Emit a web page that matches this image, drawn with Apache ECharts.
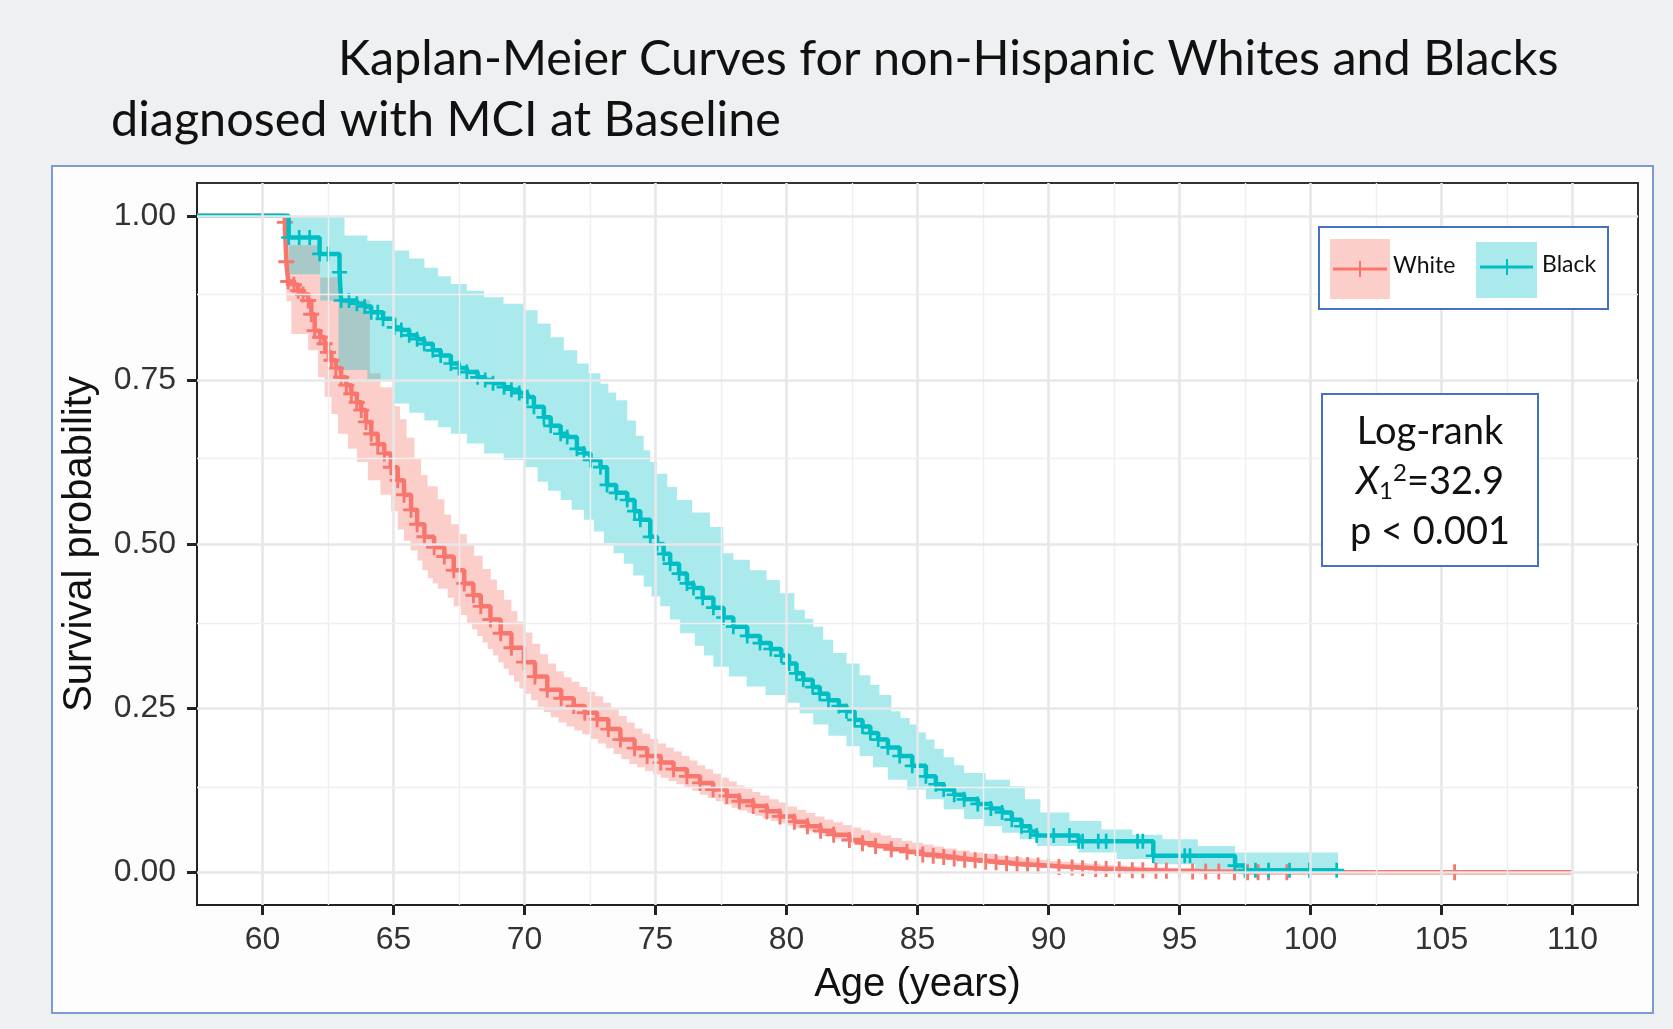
<!DOCTYPE html>
<html>
<head>
<meta charset="utf-8">
<script src="https://cdn.jsdelivr.net/npm/echarts@6.0.0/dist/echarts.min.js"></script>
<style>
html,body{margin:0;padding:0;background:#eff0f2;}
#chart{width:1673px;height:1029px;}
</style>
</head>
<body>
<div id="chart"></div>
<script>
// ---------- text ----------
const titleLine1 = 'Kaplan-Meier Curves for non-Hispanic Whites and Blacks';
const titleLine2 = 'diagnosed with MCI at Baseline';
const xName = 'Age (years)';
const yName = 'Survival probability';
const groupNames = ['White', 'Black'];

// ---------- axes ----------
const xRange = [57.5, 112.5];
const yRange = [-0.05, 1.05];
const xTicks = [60, 65, 70, 75, 80, 85, 90, 95, 100, 105, 110];
const xMinor = [62.5, 67.5, 72.5, 77.5, 82.5, 87.5, 92.5, 97.5, 102.5, 107.5];
const yTicks = [0, 0.25, 0.5, 0.75, 1];
const yMinor = [0.125, 0.375, 0.625, 0.875];

// ---------- Kaplan-Meier estimates [age, survival] (each point: level from that age on) ----------
const whiteSurv = [
 [57.5,1.0],[60.85,0.99],[60.91,0.93],[60.98,0.90],[61.2,0.895],[61.36,0.886],[61.55,0.880],[61.74,0.871],
 [61.86,0.850],[61.99,0.825],[62.2,0.815],[62.37,0.805],[62.5,0.792],[62.63,0.780],[62.8,0.768],[63.0,0.754],
 [63.2,0.742],[63.39,0.729],[63.6,0.716],[63.77,0.704],[63.95,0.686],[64.15,0.668],[64.4,0.652],[64.65,0.638],
 [64.9,0.617],[65.16,0.597],[65.4,0.575],[65.67,0.552],[65.9,0.530],[66.18,0.511],[66.55,0.495],[66.94,0.481],
 [67.3,0.460],[67.7,0.440],[68.05,0.422],[68.33,0.405],[68.7,0.385],[69.09,0.364],[69.5,0.342],[69.98,0.320],
 [70.4,0.298],[70.87,0.278],[71.4,0.265],[71.88,0.253],[72.3,0.243],[72.77,0.233],[73.2,0.218],[73.66,0.202],
 [74.2,0.189],[74.68,0.177],[75.2,0.167],[75.69,0.157],[76.2,0.146],[76.7,0.136],[77.2,0.126],[77.72,0.116],
 [78.2,0.108],[78.73,0.101],[79.25,0.093],[79.75,0.085],[80.3,0.077],[80.8,0.070],[81.3,0.063],[81.8,0.057],
 [82.4,0.049],[82.9,0.044],[83.4,0.040],[84.0,0.035],[84.6,0.031],[85.2,0.027],[85.6,0.025],[86.0,0.023],
 [86.4,0.021],[86.8,0.019],[87.2,0.018],[87.6,0.016],[88.0,0.015],[88.4,0.013],[88.8,0.012],[89.2,0.011],
 [89.6,0.010],[90.0,0.009],[90.4,0.008],[90.9,0.007],[91.3,0.006],[91.8,0.005],[92.2,0.005],[92.7,0.004],
 [93.2,0.003],[93.6,0.003],[94.1,0.002],[94.5,0.002],[95.0,0.002],[95.5,0.001],[96.0,0.001],[96.5,0.001],
 [97.1,0.0],[97.6,0.0],[98.0,0.0],[98.4,0.0],[99.1,0.0],[105.5,0.0],[110.0,0.0]
];
const whiteUpper = [
 [57.5,1.0],[60.85,1.0],[60.95,0.955],[62.2,0.906],[62.9,0.871],[64.1,0.76],[64.5,0.739],[65.03,0.710],
 [65.25,0.690],[65.5,0.662],[65.8,0.630],[66.05,0.605],[66.3,0.588],[66.69,0.568],[66.94,0.545],[67.2,0.530],
 [67.5,0.515],[67.8,0.498],[68.08,0.482],[68.4,0.462],[68.71,0.446],[68.95,0.430],[69.22,0.415],[69.5,0.398],
 [69.73,0.382],[70.0,0.365],[70.3,0.348],[70.6,0.332],[70.9,0.318],[71.2,0.306],[71.5,0.297],[71.8,0.290],
 [72.1,0.282],[72.4,0.275],[72.7,0.268],[73.0,0.258],[73.3,0.248],[73.6,0.238],[73.9,0.228],[74.2,0.219],
 [74.5,0.211],[74.8,0.203],[75.1,0.196],[75.4,0.190],[75.7,0.184],[76.0,0.177],[76.3,0.170],[76.6,0.163],
 [76.9,0.157],[77.2,0.150],[77.5,0.144],[77.8,0.138],[78.1,0.132],[78.4,0.127],[78.7,0.122],[79.0,0.117],
 [79.35,0.111],[79.7,0.106],[80.05,0.100],[80.4,0.095],[80.75,0.090],[81.1,0.085],[81.45,0.080],[81.8,0.076],
 [82.15,0.072],[82.5,0.068],[82.85,0.064],[83.2,0.060],[83.6,0.056],[84.0,0.052],[84.4,0.048],[84.8,0.045],
 [85.2,0.042],[85.6,0.039],[86.0,0.036],[86.5,0.033],[87.0,0.030],[87.5,0.028],[88.0,0.025],[88.5,0.023],
 [89.0,0.021],[89.5,0.019],[90.0,0.017],[90.5,0.016],[91.0,0.014],[91.5,0.013],[92.0,0.011],[92.5,0.010],
 [93.0,0.009],[93.5,0.008],[94.0,0.007],[94.5,0.006],[95.0,0.005],[95.5,0.004],[96.0,0.004],[96.5,0.003],
 [97.1,0.0],[110.0,0.0]
];
const whiteLower = [
 [57.5,1.0],[60.85,0.97],[60.91,0.87],[61.1,0.82],[61.74,0.795],[62.12,0.754],[62.37,0.724],[62.63,0.698],
 [62.88,0.668],[63.26,0.645],[63.6,0.625],[64.02,0.597],[64.5,0.575],[64.91,0.550],[65.16,0.522],[65.4,0.505],
 [65.65,0.490],[65.92,0.475],[66.1,0.460],[66.31,0.448],[66.5,0.440],[66.7,0.432],[67.07,0.418],[67.3,0.405],
 [67.57,0.392],[67.8,0.380],[68.0,0.370],[68.2,0.360],[68.4,0.350],[68.6,0.340],[68.8,0.330],[69.0,0.320],
 [69.2,0.310],[69.4,0.300],[69.6,0.290],[69.8,0.280],[70.0,0.272],[70.25,0.262],[70.5,0.252],[70.75,0.244],
 [71.0,0.236],[71.3,0.228],[71.6,0.222],[71.9,0.216],[72.2,0.210],[72.5,0.203],[72.8,0.196],[73.1,0.189],
 [73.4,0.180],[73.7,0.172],[74.0,0.165],[74.3,0.160],[74.6,0.154],[74.9,0.149],[75.2,0.144],[75.5,0.139],
 [75.8,0.134],[76.1,0.129],[76.4,0.124],[76.7,0.118],[77.0,0.113],[77.3,0.108],[77.6,0.103],[77.9,0.098],
 [78.2,0.094],[78.5,0.090],[78.8,0.086],[79.1,0.082],[79.4,0.078],[79.7,0.074],[80.0,0.071],[80.35,0.067],
 [80.7,0.063],[81.05,0.059],[81.4,0.055],[81.75,0.051],[82.1,0.047],[82.45,0.044],[82.8,0.041],[83.15,0.038],
 [83.5,0.035],[83.9,0.032],[84.3,0.029],[84.7,0.026],[85.1,0.024],[85.55,0.021],[86.0,0.019],[86.5,0.017],
 [87.0,0.015],[87.5,0.013],[88.0,0.011],[88.5,0.010],[89.0,0.008],[89.5,0.007],[90.0,0.006],[90.5,0.005],
 [91.0,0.004],[92.0,0.003],[93.0,0.002],[94.0,0.001],[95.0,0.0],[110.0,0.0]
];

const blackSurv = [
 [57.5,1.0],[61.0,0.967],[61.4,0.967],[61.8,0.967],[62.18,0.942],[62.5,0.942],[62.94,0.914],[63.0,0.871],
 [63.3,0.871],[63.6,0.866],[63.9,0.862],[64.15,0.853],[64.4,0.853],[64.6,0.843],[65.03,0.830],[65.3,0.826],
 [65.6,0.818],[65.9,0.812],[66.17,0.805],[66.5,0.795],[66.8,0.787],[67.19,0.775],[67.5,0.768],[67.8,0.762],
 [68.21,0.754],[68.5,0.750],[68.8,0.745],[69.22,0.739],[69.5,0.735],[69.8,0.730],[70.11,0.724],[70.36,0.709],
 [70.74,0.693],[71.0,0.680],[71.38,0.668],[71.63,0.663],[72.0,0.645],[72.27,0.638],[72.52,0.628],[72.9,0.617],
 [73.15,0.590],[73.5,0.578],[73.92,0.567],[74.2,0.550],[74.42,0.537],[74.8,0.511],[75.06,0.500],[75.31,0.485],
 [75.56,0.470],[75.9,0.455],[76.2,0.440],[76.45,0.433],[76.8,0.418],[77.21,0.403],[77.6,0.388],[77.97,0.374],
 [78.5,0.360],[78.99,0.349],[79.4,0.340],[79.8,0.330],[80.1,0.318],[80.38,0.303],[80.64,0.293],[81.0,0.282],
 [81.27,0.272],[81.6,0.262],[82.0,0.253],[82.29,0.245],[82.6,0.232],[82.9,0.222],[83.2,0.212],[83.5,0.202],
 [83.87,0.190],[84.32,0.177],[84.8,0.162],[85.32,0.146],[85.7,0.134],[86.0,0.126],[86.4,0.118],[86.78,0.111],
 [87.3,0.104],[87.8,0.097],[88.23,0.091],[88.6,0.080],[88.97,0.070],[89.3,0.062],[89.55,0.056],[90.2,0.056],
 [90.8,0.056],[91.15,0.047],[91.3,0.047],[91.9,0.047],[92.2,0.047],[93.4,0.047],[93.6,0.047],[94.0,0.025],
 [95.2,0.025],[95.4,0.025],[97.12,0.010],[97.5,0.003],[97.9,0.003],[98.4,0.003],[99.2,0.003],[99.96,0.003],
 [101.0,0.003]
];
const blackUpper = [
 [57.5,1.0],[63.13,0.970],[64.0,0.962],[65.03,0.947],[65.6,0.935],[66.18,0.921],[66.7,0.908],[67.19,0.896],
 [67.8,0.886],[68.46,0.876],[69.2,0.866],[69.98,0.856],[70.5,0.836],[71.0,0.815],[71.5,0.795],[72.01,0.775],
 [72.45,0.760],[72.9,0.744],[73.2,0.731],[73.5,0.719],[73.92,0.688],[74.25,0.665],[74.55,0.643],[74.8,0.625],
 [75.06,0.607],[75.45,0.587],[75.82,0.567],[76.4,0.548],[77.08,0.526],[77.59,0.486],[77.97,0.476],[78.6,0.460],
 [79.24,0.445],[79.75,0.425],[80.3,0.400],[80.7,0.386],[81.02,0.374],[81.4,0.354],[81.78,0.334],[82.29,0.318],
 [82.79,0.300],[83.2,0.285],[83.55,0.270],[84.0,0.245],[84.35,0.235],[84.7,0.225],[85.0,0.213],[85.32,0.202],
 [85.65,0.188],[86.0,0.175],[86.4,0.163],[86.78,0.151],[87.6,0.141],[88.53,0.131],[89.1,0.111],[89.69,0.091],
 [90.8,0.078],[92.02,0.065],[93.2,0.057],[94.35,0.050],[95.7,0.040],[97.12,0.030],[101.05,0.030]
];
const blackLower = [
 [57.5,1.0],[61.0,0.911],[62.2,0.871],[62.9,0.765],[64.0,0.749],[65.03,0.714],[65.6,0.700],[66.18,0.688],
 [66.7,0.678],[67.19,0.668],[67.8,0.653],[68.46,0.638],[69.2,0.628],[69.98,0.617],[70.5,0.595],[70.9,0.581],
 [71.38,0.567],[71.8,0.552],[72.27,0.537],[72.65,0.519],[73.03,0.501],[73.4,0.486],[73.79,0.470],[74.15,0.452],
 [74.55,0.435],[74.85,0.420],[75.18,0.405],[75.55,0.385],[75.94,0.364],[76.5,0.345],[76.85,0.330],[77.21,0.313],
 [77.8,0.298],[78.48,0.283],[79.2,0.270],[80.0,0.258],[80.5,0.242],[81.02,0.225],[81.6,0.208],[82.29,0.192],
 [82.79,0.177],[83.3,0.160],[83.87,0.141],[84.6,0.126],[85.32,0.111],[86.0,0.096],[86.78,0.081],[87.5,0.070],
 [88.23,0.060],[88.9,0.050],[89.55,0.040],[91.15,0.030],[92.6,0.020],[94.06,0.012],[95.6,0.005],[97.12,0.0],
 [101.05,0.0]
];

// ---------- annotation ----------
const testName = 'Log-rank';
const chiDf = '1';
const chiValue = '32.9';
const pText = 'p < 0.001';

// ---------- styling ----------
const RED = '#F8766D', CYAN = '#00BFC4';
const RED_FILL = 'rgba(248,118,109,0.36)', CYAN_FILL = 'rgba(0,191,196,0.33)';
const PLUS = 'path://M4.1,0H5.9V10H4.1Z M0,4.1H10V5.9H0Z';
const AXIS_FONT = 'Liberation Sans';
const TEXT_FONT = 'Lato';

const chart = echarts.init(document.getElementById('chart'), null, {renderer: 'canvas'});

function bandSeries(upper, lower, fill, z) {
  return {
    type: 'custom', silent: true, z: z, clip: true, animation: false,
    data: [[upper[0][0], upper[0][1]]],
    renderItem: function (params, api) {
      const pts = [];
      for (let i = 0; i < upper.length; i++) {
        pts.push(api.coord(upper[i]));
        if (i + 1 < upper.length) pts.push(api.coord([upper[i + 1][0], upper[i][1]]));
      }
      const n = lower.length - 1;
      pts.push(api.coord(lower[n]));
      for (let k = n - 1; k >= 0; k--) {
        pts.push(api.coord([lower[k + 1][0], lower[k][1]]));
        pts.push(api.coord(lower[k]));
      }
      return {type: 'polygon', shape: {points: pts}, style: {fill: fill, stroke: null}};
    }
  };
}

function kmSeries(name, pts, color, z, width, size, lastPlain) {
  return {
    name: name, type: 'line', step: 'end', z: z, silent: true, animation: false,
    showSymbol: true, symbol: PLUS, symbolSize: size,
    lineStyle: {color: color, width: width},
    itemStyle: {color: color},
    data: pts.map(function (p, i) {
      const plain = i === 0 || (lastPlain && i === pts.length - 1);
      return plain ? {value: p, symbol: 'none'} : {value: p};
    })
  };
}

const MAJOR = {color: '#e7e7e9', width: 2.6, type: 'solid'};
const MINOR = {color: '#efeff1', width: 1.4, type: 'solid'};
const gridLines = [];
xTicks.forEach(v => gridLines.push({xAxis: v, lineStyle: MAJOR}));
xMinor.forEach(v => gridLines.push({xAxis: v, lineStyle: MINOR}));
yTicks.forEach(v => gridLines.push({yAxis: v, lineStyle: MAJOR}));
yMinor.forEach(v => gridLines.push({yAxis: v, lineStyle: MINOR}));

const titleStyle = {fontFamily: TEXT_FONT, fontSize: 48.5, fontWeight: 'normal', color: '#111', lineHeight: 56};

const option = {
  backgroundColor: '#eff0f2',
  animation: false,
  title: [
    {text: titleLine1, left: 338, top: 31, padding: 0, textStyle: titleStyle},
    {text: titleLine2, left: 111, top: 92, padding: 0, textStyle: titleStyle}
  ],
  grid: {left: 197, right: 35, top: 183, bottom: 124, show: true, backgroundColor: '#ffffff',
         borderColor: '#333', borderWidth: 2, containLabel: false},
  xAxis: {
    type: 'value', min: xRange[0], max: xRange[1],
    axisLine: {show: true, onZero: false, lineStyle: {color: '#222', width: 2}},
    axisTick: {show: true, length: 10, customValues: xTicks, lineStyle: {color: '#222', width: 3}},
    axisLabel: {customValues: xTicks, fontFamily: AXIS_FONT, fontSize: 32, color: '#333', margin: 19},
    splitLine: {show: false}, minorSplitLine: {show: false},
    name: xName, nameLocation: 'middle', nameGap: 60,
    nameTextStyle: {fontFamily: AXIS_FONT, fontSize: 40, color: '#111'}
  },
  yAxis: {
    type: 'value', min: yRange[0], max: yRange[1],
    axisLine: {show: true, onZero: false, lineStyle: {color: '#222', width: 2}},
    axisTick: {show: true, length: 10, customValues: yTicks, lineStyle: {color: '#222', width: 3}},
    axisLabel: {customValues: yTicks, formatter: v => Number(v).toFixed(2),
                fontFamily: AXIS_FONT, fontSize: 32, color: '#333', margin: 21},
    splitLine: {show: false}, minorSplitLine: {show: false},
    name: yName, nameLocation: 'middle', nameGap: 97,
    nameTextStyle: {fontFamily: AXIS_FONT, fontSize: 40, color: '#111'}
  },
  series: [
    {type: 'line', data: [], silent: true, z: 0, animation: false,
     markLine: {silent: true, symbol: ['none', 'none'], label: {show: false}, animation: false, data: gridLines}},
    bandSeries(whiteUpper, whiteLower, RED_FILL, 1),
    bandSeries(blackUpper, blackLower, CYAN_FILL, 2),
    kmSeries(groupNames[0], whiteSurv, RED, 3, 4.5, 16, true),
    kmSeries(groupNames[1], blackSurv, CYAN, 4, 4.5, 15, false)
  ],
  graphic: [
    {type: 'rect', z: -10, shape: {x: 52, y: 166, width: 1601, height: 847},
     style: {fill: '#fdfdfd', stroke: '#7d9ad8', lineWidth: 2}},
    // legend
    {type: 'rect', z: 100, shape: {x: 1319, y: 227, width: 289, height: 82},
     style: {fill: '#ffffff', stroke: '#4472c4', lineWidth: 2}},
    {type: 'rect', z: 101, shape: {x: 1330, y: 239, width: 60, height: 60}, style: {fill: RED_FILL}},
    {type: 'line', z: 102, shape: {x1: 1333, y1: 269, x2: 1387, y2: 269}, style: {stroke: RED, lineWidth: 3}},
    {type: 'line', z: 102, shape: {x1: 1360, y1: 261, x2: 1360, y2: 277}, style: {stroke: RED, lineWidth: 2}},
    {type: 'text', z: 102, x: 1393, y: 266,
     style: {text: groupNames[0], font: '23px Lato', fill: '#111', verticalAlign: 'middle'}},
    {type: 'rect', z: 101, shape: {x: 1476, y: 242, width: 61, height: 56}, style: {fill: CYAN_FILL}},
    {type: 'line', z: 102, shape: {x1: 1480, y1: 267, x2: 1533, y2: 267}, style: {stroke: CYAN, lineWidth: 3}},
    {type: 'line', z: 102, shape: {x1: 1507, y1: 259, x2: 1507, y2: 275}, style: {stroke: CYAN, lineWidth: 2}},
    {type: 'text', z: 102, x: 1542, y: 265,
     style: {text: groupNames[1], font: '23px Lato', fill: '#111', verticalAlign: 'middle'}},
    // log-rank box
    {type: 'rect', z: 100, shape: {x: 1322, y: 394, width: 216, height: 172},
     style: {fill: '#ffffff', stroke: '#4472c4', lineWidth: 2}},
    {type: 'text', z: 102, x: 1430, y: 432,
     style: {text: testName, font: '38px Lato', fill: '#111', align: 'center', verticalAlign: 'middle'}},
    {type: 'text', z: 102, x: 1430, y: 482,
     style: {text: '{x|X}{sub|' + chiDf + '}{sup|2}{n|=' + chiValue + '}', align: 'center', verticalAlign: 'middle',
             rich: {
               x: {fontFamily: 'Lato', fontStyle: 'italic', fontSize: 38, lineHeight: 42, fill: '#111', color: '#111'},
               sub: {fontFamily: 'Lato', fontSize: 24, lineHeight: 22, verticalAlign: 'bottom', fill: '#111', color: '#111'},
               sup: {fontFamily: 'Lato', fontSize: 24, lineHeight: 22, verticalAlign: 'top', fill: '#111', color: '#111'},
               n: {fontFamily: 'Lato', fontSize: 38, lineHeight: 42, fill: '#111', color: '#111'}
             }}},
    {type: 'text', z: 102, x: 1430, y: 532,
     style: {text: pText, font: '38px Lato', fill: '#111', align: 'center', verticalAlign: 'middle'}}
  ]
};
chart.setOption(option);
</script>
</body>
</html>
